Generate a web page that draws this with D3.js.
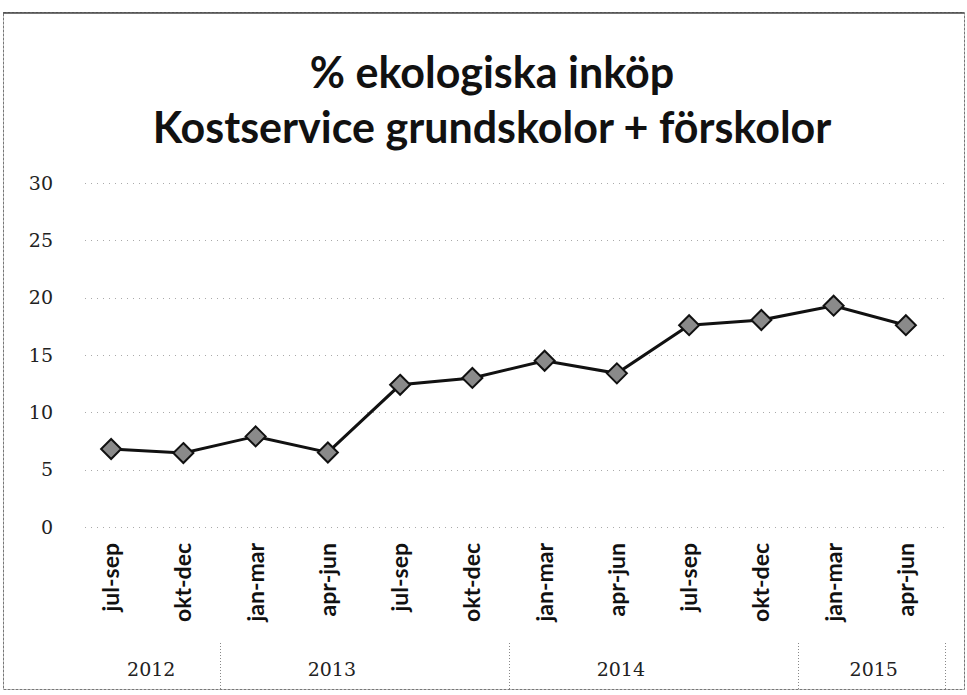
<!DOCTYPE html>
<html>
<head>
<meta charset="utf-8">
<script src="https://cdn.jsdelivr.net/npm/d3@7"></script>
<style>
  body { margin: 0; background: #fff; }
  svg { display: block; }
</style>
</head>
<body>
<svg></svg>
<script>
const quarters = ['jul-sep', 'okt-dec', 'jan-mar', 'apr-jun', 'jul-sep', 'okt-dec',
  'jan-mar', 'apr-jun', 'jul-sep', 'okt-dec', 'jan-mar', 'apr-jun']
const years = ['2012', '2013', '2014', '2015']
const yearCounts = [2, 4, 4, 2]
const values = [6.8, 6.45, 7.9, 6.5, 12.4, 13.0, 14.5, 13.4, 17.6, 18.05, 19.3, 17.6]
const yTicks = [0, 5, 10, 15, 20, 25, 30]
const titleLines = ['% ekologiska inköp', 'Kostservice grundskolor + förskolor']

const W = 967
const H = 695
const pd = { top: 183, left: 75, right: 20, bottom: 168 }

const svg = d3.select('svg')
  .attr('width', W)
  .attr('height', H)

// frame
svg.append('rect')
  .attr('x', 3.5)
  .attr('y', 12.5)
  .attr('width', W - 6)
  .attr('height', H - 18)
  .attr('fill', 'none')
  .attr('stroke', '#777')
  .attr('stroke-dasharray', '3,1')
svg.append('line')
  .attr('x1', 3).attr('x2', W - 3)
  .attr('y1', 13).attr('y2', 13)
  .attr('stroke', '#444')
  .attr('stroke-width', 1.5)

// title
svg.append('g')
  .selectAll('text')
  .data(titleLines)
  .enter()
  .append('text')
  .attr('x', 492)
  .attr('y', (d, i) => 88 + i * 55)
  .attr('text-anchor', 'middle')
  .attr('font-family', 'Lato, "Open Sans", sans-serif')
  .attr('font-weight', 'bold')
  .attr('font-size', 43)
  .attr('fill', '#111')
  .text(d => d)

const ids = quarters.map((q, i) => i)
const x = d3.scaleBand()
  .domain(ids)
  .range([pd.left, W - pd.right - 5])

const y = d3.scaleLinear()
  .domain([0, 30])
  .range([H - pd.bottom, pd.top])

const cx = i => x(i) + x.bandwidth() / 2

// grid
svg.append('g')
  .selectAll('line')
  .data(yTicks)
  .enter()
  .append('line')
  .attr('x1', pd.left + 10)
  .attr('x2', W - pd.right)
  .attr('y1', d => Math.round(y(d)) + 0.5)
  .attr('y2', d => Math.round(y(d)) + 0.5)
  .attr('stroke', '#aaa')
  .attr('stroke-width', 1)
  .attr('stroke-dasharray', '1,5')

// y axis labels
const ya = svg.append('g')
  .attr('transform', `translate(${pd.left - 22}, 0)`)
  .call(d3.axisLeft(y).tickValues(yTicks).tickSize(0).tickPadding(0))
ya.select('.domain').remove()
ya.selectAll('text')
  .attr('font-family', '"DejaVu Serif", serif')
  .attr('font-size', 19)
  .attr('fill', '#222')

// x axis labels (rotated)
const xa = svg.append('g')
  .attr('transform', `translate(0, ${H - pd.bottom})`)
  .call(d3.axisBottom(x).tickSize(0).tickFormat(i => quarters[i]))
xa.select('.domain').remove()
xa.selectAll('text')
  .attr('transform', 'rotate(-90)')
  .attr('text-anchor', 'end')
  .attr('x', -16)
  .attr('y', 0)
  .attr('dy', '0.35em')
  .attr('font-family', 'Lato, "Open Sans", sans-serif')
  .attr('font-weight', 'bold')
  .attr('font-size', 23)
  .attr('fill', '#111')

// year groups
let start = 0
const groups = years.map((yr, k) => {
  const g = { year: yr, first: start, last: start + yearCounts[k] - 1 }
  start += yearCounts[k]
  return g
})
const edge = i => x(i)
const yearX = g => {
  const last = g.last - g.first > 1 ? g.last - 1 : g.last
  return (cx(g.first) + cx(last)) / 2 + 4
}

svg.append('g')
  .selectAll('line')
  .data(groups.slice(1).map(g => edge(g.first)).concat([x.range()[1] + 3]))
  .enter()
  .append('line')
  .attr('x1', d => Math.round(d) + 0.5)
  .attr('x2', d => Math.round(d) + 0.5)
  .attr('y1', 643)
  .attr('y2', 690)
  .attr('stroke', '#888')
  .attr('stroke-dasharray', '1,2')

svg.append('g')
  .selectAll('text')
  .data(groups)
  .enter()
  .append('text')
  .attr('x', yearX)
  .attr('y', 676)
  .attr('text-anchor', 'middle')
  .attr('font-family', '"DejaVu Serif", serif')
  .attr('font-size', 19)
  .attr('fill', '#222')
  .text(d => d.year)

// line
svg.append('path')
  .datum(values)
  .attr('d', d3.line()
    .x((v, i) => cx(i))
    .y(v => y(v)))
  .attr('fill', 'none')
  .attr('stroke', '#111')
  .attr('stroke-width', 3)

// diamond markers
const r = 10
svg.append('g')
  .selectAll('path')
  .data(values)
  .enter()
  .append('path')
  .attr('transform', (v, i) => `translate(${cx(i)}, ${y(v)})`)
  .attr('d', `M0,${-r}L${r},0L0,${r}L${-r},0Z`)
  .attr('fill', '#8a8a8a')
  .attr('stroke', '#111')
  .attr('stroke-width', 2)
</script>
</body>
</html>
